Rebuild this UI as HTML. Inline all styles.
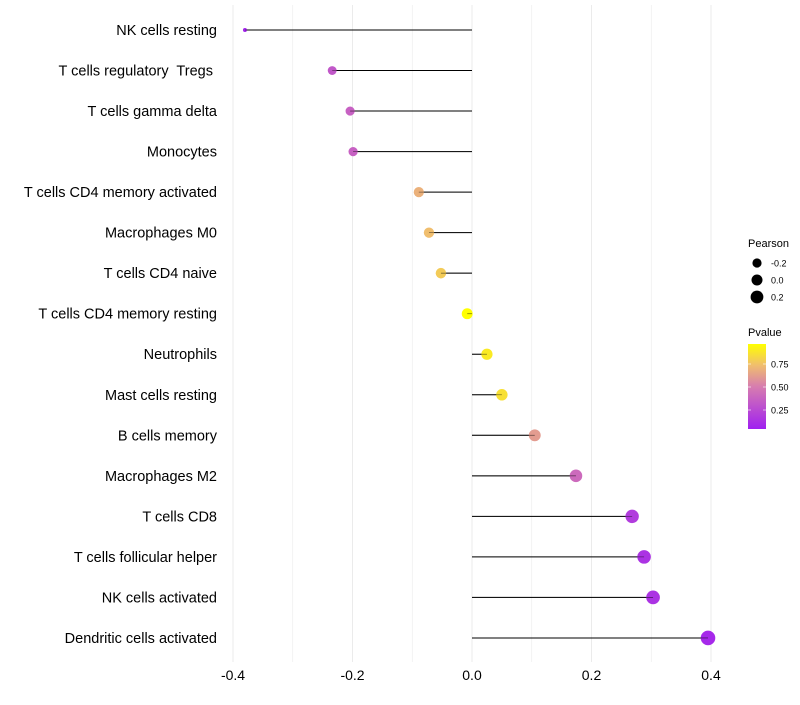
<!DOCTYPE html>
<html><head><meta charset="utf-8"><style>
body{margin:0;background:#fff;font-family:"Liberation Sans",sans-serif}
svg text{font-family:"Liberation Sans",sans-serif;white-space:pre}
</style></head><body>
<svg id="c" width="800" height="700"></svg>
<script>
const categories=["NK cells resting","T cells regulatory  Tregs ","T cells gamma delta","Monocytes","T cells CD4 memory activated","Macrophages M0","T cells CD4 naive","T cells CD4 memory resting","Neutrophils","Mast cells resting","B cells memory","Macrophages M2","T cells CD8","T cells follicular helper","NK cells activated","Dendritic cells activated"];
const pearson=[-0.38,-0.234,-0.204,-0.199,-0.089,-0.072,-0.052,-0.008,0.025,0.05,0.105,0.174,0.268,0.288,0.303,0.395];
const pvalue=[0.03,0.3,0.35,0.35,0.7,0.75,0.8,1.0,0.92,0.88,0.62,0.4,0.15,0.1,0.1,0.05];
const xTicks=[-0.4,-0.2,0,0.2,0.4];
const xTickLabels=["-0.4","-0.2","0.0","0.2","0.4"];
const sizeLegend=[-0.2,0,0.2];
const pTicks=[0.25,0.5,0.75];

const NS="http://www.w3.org/2000/svg";
const svg=document.getElementById('c');
function el(t,a,p){const e=document.createElementNS(NS,t);for(const k in a)e.setAttribute(k,a[k]);(p||svg).appendChild(e);return e;}
const x=v=>472+v*597.5;
const y=i=>30+i*40.53;
const r=v=>v<-0.3?2:5.5+4.5*v;
const stops=[[0,[160,32,240]],[0.5,[215,125,175]],[0.75,[240,190,110]],[1,[255,255,0]]];
function col(p){p=Math.max(0,Math.min(1,p));for(let i=1;i<stops.length;i++){if(p<=stops[i][0]){const a=stops[i-1],b=stops[i],t=(p-a[0])/(b[0]-a[0]);return 'rgb('+a[1].map((c,j)=>Math.round(c+(b[1][j]-c)*t)).join(',')+')';}}}
for(let k=-4;k<=4;k++){const v=k/10;const g=el('line',{x1:x(v),x2:x(v),y1:5,y2:662,stroke:'#ebebeb','stroke-width':k%2===0?1:0.6});
}
xTicks.forEach((v,i)=>{const t=el('text',{x:x(v),y:680,'text-anchor':'middle','font-size':14,fill:'#000'});t.textContent=xTickLabels[i];
});
categories.forEach((c,i)=>{
const t=el('text',{x:217,y:y(i)+5,'text-anchor':'end','font-size':14.5,fill:'#000'});t.textContent=c;

const l=el('line',{x1:x(0),x2:x(pearson[i]),y1:y(i),y2:y(i),stroke:'#000','stroke-width':1});

const d=el('circle',{cx:x(pearson[i]),cy:y(i),r:r(pearson[i]),fill:col(pvalue[i])});

el('line',{x1:x(0),x2:x(pearson[i]),y1:y(i),y2:y(i),stroke:'#000','stroke-width':0.8,'stroke-opacity':0.5});
});
let t=el('text',{x:748,y:247,'font-size':11});t.textContent='Pearson';

sizeLegend.forEach((v,i)=>{const cy=263+i*17;const c=el('circle',{cx:757,cy:cy,r:r(v),fill:'#000'});

const tt=el('text',{x:771,y:cy+3.5,'font-size':9});tt.textContent=v.toFixed(1);
});
t=el('text',{x:748,y:336,'font-size':11});t.textContent='Pvalue';

const defs=el('defs',{});const lg=el('linearGradient',{id:'g',x1:0,y1:1,x2:0,y2:0},defs);
stops.forEach(s=>el('stop',{offset:s[0],'stop-color':'rgb('+s[1].join(',')+')'},lg));
const bar=el('rect',{x:748,y:344,width:18,height:85,fill:'url(#g)'});

const py=p=>433-p*92;
pTicks.forEach(p=>{el('line',{x1:748,x2:751,y1:py(p),y2:py(p),stroke:'#fff','stroke-opacity':0.6});el('line',{x1:763,x2:766,y1:py(p),y2:py(p),stroke:'#fff','stroke-opacity':0.6});
const tt=el('text',{x:771,y:py(p)+3.5,'font-size':9});tt.textContent=p.toFixed(2);
});
</script>
</body></html>
